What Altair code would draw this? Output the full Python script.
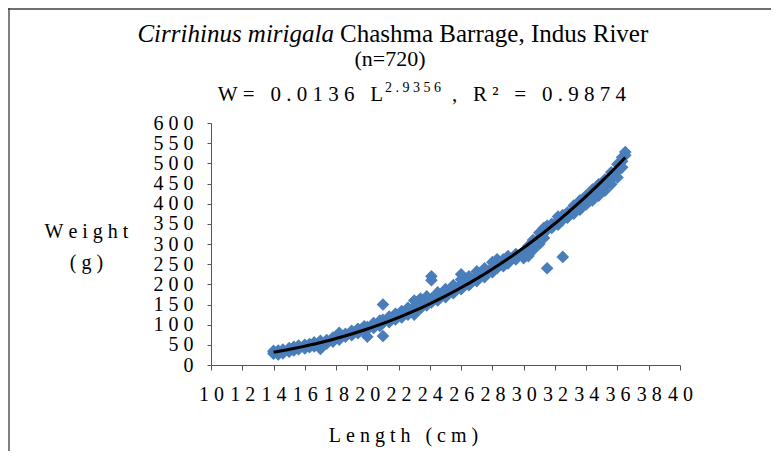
import altair as alt
import pandas as pd

# ---- data ----
group_lengths = [14.0, 14.3, 14.6, 15.0, 15.3, 15.6, 16.0, 16.3, 16.6, 17.0,
                 17.4, 17.8, 18.2, 18.6, 19.0, 19.4, 19.8, 20.0, 20.4, 20.8,
                 21.0, 21.4, 21.8, 22.2, 22.6, 23.0, 23.4, 23.8, 24.1, 24.5,
                 25.0, 25.5, 26.0, 26.5, 27.0, 27.5, 28.0, 28.3, 28.7, 29.0,
                 29.5, 30.0, 30.3, 30.6, 31.0, 31.3, 31.5, 31.8, 32.2, 32.5,
                 32.8, 33.2, 33.6, 34.0, 34.4, 34.8, 35.2, 35.6, 36.0, 36.3, 36.5]
group_weights = [[28, 32, 35], [30, 36, 26], [33, 38, 29], [36, 42, 33], [40, 36, 45],
                 [43, 39, 48], [45, 50, 41], [47, 52, 44], [50, 56, 46], [40, 55, 60, 51],
                 [57, 62, 53], [62, 68, 58], [66, 72, 80, 63], [70, 77, 74], [74, 80, 85],
                 [79, 84, 90], [84, 91, 96], [70, 88, 94], [92, 99, 104], [97, 104, 110],
                 [150, 72, 105, 112], [106, 113, 120], [113, 120, 127], [118, 126, 134], [125, 133, 142],
                 [125, 136, 145, 160], [140, 150, 165], [148, 156, 170], [220, 210, 155, 165], [160, 170, 180],
                 [168, 178, 188], [178, 188, 198], [188, 200, 225, 212], [198, 210, 220], [208, 220, 232],
                 [218, 228, 240], [230, 242, 255], [262, 240, 250], [245, 255, 262], [252, 262, 270],
                 [262, 275], [265, 272, 282], [270, 285, 295], [285, 298, 310], [300, 315, 328],
                 [315, 330, 340], [240, 335, 345], [340, 350], [348, 358, 368], [268, 360, 372],
                 [365, 378], [375, 385, 395], [385, 398, 408], [398, 410, 420], [408, 420, 435],
                 [420, 432, 448], [432, 445, 460], [448, 462, 478], [465, 480, 498], [490, 505, 515],
                 [520, 528]]

x_ticks = list(range(10, 41, 2))
y_ticks = list(range(0, 601, 50))

title_italic = "Cirrihinus mirigala"
title_rest = "Chashma Barrage, Indus River"
title_n = "(n=720)"
eq_main = "W= 0.0136 L"
eq_sup = "2.9356"
eq_tail = ", R² = 0.9874"
x_title = "Length (cm)"
y_title = ["Weight", "(g)"]

NB = "\u00a0"


def spaced(s):
    return NB.join(NB if c == " " else c for c in s)


rows = []
for L, ws in zip(group_lengths, group_weights):
    for w in ws:
        rows.append({"L": L, "W": w})
df = pd.DataFrame(rows)

FONT = "Liberation Serif"
LBL = "join(split(datum.label,''),' ')"

x_axis = alt.Axis(values=x_ticks, title=spaced(x_title), titleX=192, titleY=76,
                  titleAnchor="start", titleAlign="center", titleBaseline="alphabetic",
                  labelExpr=LBL, labelPadding=14, tickSize=5, labelFlush=False, labelOverlap=False)
y_axis = alt.Axis(values=y_ticks, title=[spaced(t) for t in y_title], titleAngle=0,
                  titleX=-125, titleY=114, titleAlign="center", titleBaseline="alphabetic",
                  titleLineHeight=31, labelExpr=LBL, labelPadding=14, tickSize=4,
                  labelFlush=False, labelOverlap=False)
x_scale = alt.Scale(domain=[10, 40], nice=False, zero=False)
y_scale = alt.Scale(domain=[0, 600], nice=False)

base = alt.Chart(df)
points = base.mark_point(shape="diamond", filled=True, size=160, opacity=1,
                         color="#4A7EBB").encode(
    x=alt.X("L:Q", scale=x_scale, axis=x_axis),
    y=alt.Y("W:Q", scale=y_scale, axis=y_axis))
trend = base.transform_regression("L", "W", method="pow", extent=[14.0, 36.5]).mark_line(
    color="black", strokeWidth=3).encode(
    x=alt.X("L:Q", scale=x_scale, axis=x_axis),
    y=alt.Y("W:Q", scale=y_scale, axis=y_axis))

one = pd.DataFrame({"k": [0]})


def txt(text, x, y, size=21, align="left", style="normal", baseline="alphabetic"):
    return alt.Chart(one).mark_text(text=text, font=FONT, fontSize=size, align=align,
                                    baseline=baseline, fontStyle=style, color="black").encode(
        x=alt.value(x), y=alt.value(y))


t1 = txt(title_italic, 123, -81, size=25, align="right", style="italic")
t2 = txt(title_rest, 129, -81, size=25)
t3 = txt(title_n, 179, -57, size=22, align="center")
t4 = txt(spaced(eq_main), 172, -22, align="right")
t5 = txt(spaced(eq_sup), 174, -31, size=14)
t6 = txt(spaced(eq_tail), 241, -22)

frame_left = alt.Chart(one).mark_rule(color="#808080", strokeWidth=2).encode(
    x=alt.value(-202), y=alt.value(-115), y2=alt.value(336))
frame_top = alt.Chart(one).mark_rule(color="#404040", strokeWidth=1.5).encode(
    x=alt.value(-203), x2=alt.value(568), y=alt.value(-114))

chart = alt.layer(points, trend, t1, t2, t3, t4, t5, t6, frame_left, frame_top).properties(
    width=469, height=242,
    autosize=alt.AutoSizeParams(type="none"),
    padding={"left": 203, "top": 115, "right": 91, "bottom": 86},
    background="white",
).configure_view(stroke=None).configure_axis(
    grid=False, domainColor="#555555", tickColor="#555555", domainWidth=1, tickWidth=1,
    labelFont=FONT, labelFontSize=20, labelColor="black", labelOverlap=False, labelFlush=False,
    titleFont=FONT, titleFontSize=20, titleColor="black", titleFontWeight="normal",
)

chart.save("out.html", embed_options={"renderer": "svg", "actions": False})
